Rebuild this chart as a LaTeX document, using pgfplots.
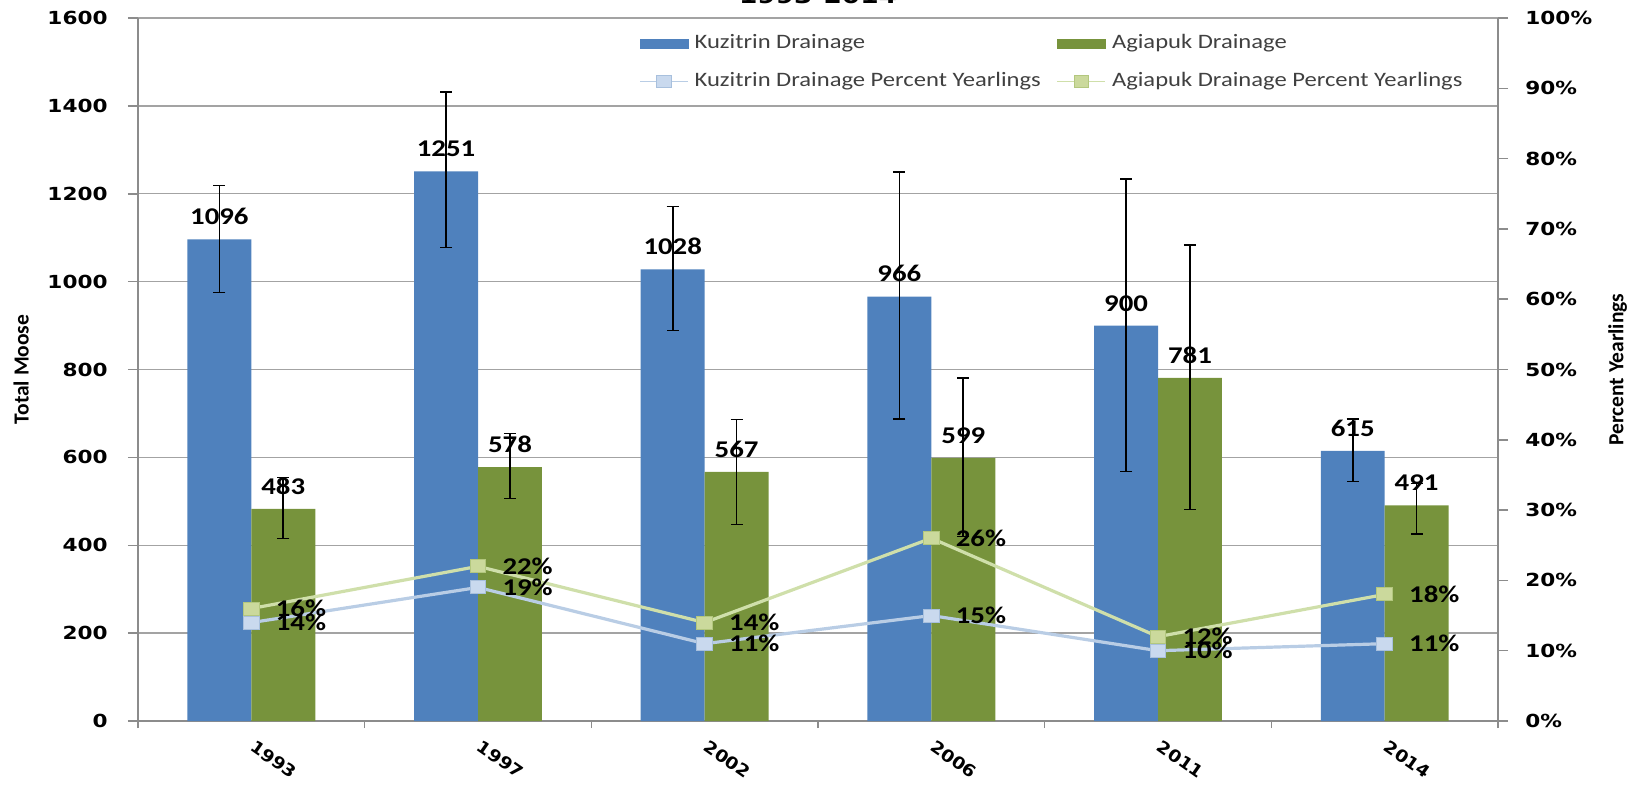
\documentclass[border=0pt]{standalone}
\usepackage{pgfplots}
\usepackage{pgfplotstable}
\pgfplotsset{compat=1.18}
\usepackage{fontspec}
\setmainfont{Carlito}
\newfontfamily\tickfont{DejaVu Sans}[FakeStretch=1.2]
\newfontfamily\xfont{DejaVu Sans}[FakeStretch=1.1]
\newfontfamily\labfont{Carlito}[FakeStretch=1.2]

\definecolor{kblue}{HTML}{4F81BD}
\definecolor{agreen}{HTML}{77933C}
\definecolor{kline}{HTML}{B9CDE5}
\definecolor{kmark}{HTML}{C9D9EE}
\definecolor{kedge}{HTML}{A8C0DD}
\definecolor{aline}{HTML}{CFDFAA}
\definecolor{amark}{HTML}{CBD99C}
\definecolor{aedge}{HTML}{B3C77E}
\definecolor{gridc}{HTML}{A3A3A3}
\definecolor{axc}{HTML}{8C8C8C}
\definecolor{legtext}{HTML}{404040}

\pgfplotsset{
  mylinelegend/.style={legend image code/.code={\draw[mark repeat=2, mark phase=2, ##1, line width=0.6pt, mark size=3pt] plot coordinates {(0pt,0pt) (12pt,0pt) (24pt,0pt)};}},
  kbarlegend/.style={legend image code/.code={\fill[kblue] (0pt,-2.25pt) rectangle (24pt,2.25pt);}},
  abarlegend/.style={legend image code/.code={\fill[agreen] (0pt,-2.25pt) rectangle (24pt,2.25pt);}},
}

\pgfplotstableread{
x y ep em
0 1096 123 121
1 1251 180 173
2 1028 143 139
3 966 283 278
4 900 333 332
5 615 73 70
}\kuz
\pgfplotstableread{
x y ep em
0 483 71 68
1 578 76 72
2 567 119 120
3 599 181 179
4 781 302 300
5 491 50 65
}\agi
\pgfplotstableread{
x k a
0 14 16
1 19 22
2 11 14
3 15 26
4 10 12
5 11 18
}\pct

\begin{document}
\begin{tikzpicture}
\begin{axis}[
 name=main, at={(0,0)}, anchor=south west,
 scale only axis, width=680pt, height=351.5pt,
 xmin=-0.5, xmax=5.5, ymin=0, ymax=1600,
 ybar=0pt, bar width=0.282,
 axis x line*=bottom, axis y line*=left,
 axis line style={draw=axc, line width=0.75pt, -},
 xtick={0,...,5}, xticklabels={1993,1997,2002,2006,2011,2014},
 minor xtick={-0.5,0.5,...,5.5},
 xtick style={draw=none},
 minor x tick style={draw=axc, line width=0.75pt},
 tick align=outside,
 major tick length=5pt, minor tick length=3.5pt,
 ytick={0,200,...,1600},
 yticklabels={0,200,400,600,800,1000,1200,1400,1600},
 ytick style={draw=axc, line width=0.75pt},
 ymajorgrids, major grid style={draw=gridc, line width=0.7pt},
 yticklabel style={font=\tickfont\bfseries\fontsize{9}{10}\selectfont, inner sep=0pt, anchor=east, xshift=-10pt},
 xticklabel style={font=\xfont\bfseries\fontsize{8.4}{10}\selectfont, xshift=2.5pt, yshift=-4pt, rotate=-35, anchor=north west, inner sep=0pt},
 ylabel={Total Moose},
 ylabel style={font=\bfseries\fontsize{10.75}{12}\selectfont, at={(axis description cs:-0.086,0.5)}, anchor=center},
 nodes near coords={\pgfmathprintnumber[assume math mode=true,1000 sep={}]{\pgfplotspointmeta}},
 every node near coord/.append style={font=\labfont\bfseries\fontsize{12}{14}\selectfont, anchor=south, inner sep=0pt, yshift=7pt, black},
 clip=false,
]
\addplot[fill=kblue, draw=none,
  error bars/.cd, y dir=both, y explicit,
  error bar style={black, line width=0.8pt},
  error mark options={black, line width=0.8pt, mark size=3pt, rotate=90}]
  table[x=x, y=y, y error plus=ep, y error minus=em] {\kuz};
\addplot[fill=agreen, draw=none,
  error bars/.cd, y dir=both, y explicit,
  error bar style={black, line width=0.8pt},
  error mark options={black, line width=0.8pt, mark size=3pt, rotate=90}]
  table[x=x, y=y, y error plus=ep, y error minus=em] {\agi};
\end{axis}

\begin{axis}[
 at={(0,0)}, anchor=south west,
 scale only axis, width=680pt, height=351.5pt,
 xmin=-0.5, xmax=5.5, ymin=0, ymax=100,
 axis x line=none, axis y line*=right,
 axis line style={draw=axc, line width=0.75pt, -},
 ytick={0,10,...,100},
 yticklabels={0\%,10\%,20\%,30\%,40\%,50\%,60\%,70\%,80\%,90\%,100\%},
 tick align=outside, major tick length=5pt,
 ytick style={draw=axc, line width=0.75pt},
 yticklabel style={font=\tickfont\bfseries\fontsize{9}{10}\selectfont, inner sep=0pt, anchor=west, xshift=8.5pt},
 ylabel={Percent Yearlings},
 ylabel style={font=\bfseries\fontsize{10.75}{12}\selectfont, at={(axis description cs:1.088,0.5)}, anchor=center},
 legend columns=2,
 legend style={draw=none, fill=none, at={(axis description cs:0.3684,1)}, anchor=north west, yshift=-8pt, inner sep=0pt,
   font=\labfont\fontsize{10.25}{12}\selectfont, text=legtext, cells={anchor=west},
   /tikz/every odd column/.append style={column sep=3pt},
   /tikz/every even column/.append style={column sep=8pt},
   row sep=10pt, nodes={inner sep=0pt, text height=7pt, text depth=2pt}},
 nodes near coords={\pgfmathprintnumber[assume math mode=true]{\pgfplotspointmeta}\%},
 every node near coord/.append style={font=\labfont\bfseries\fontsize{12}{13}\selectfont, anchor=west, inner sep=0pt, xshift=12pt, black},
 clip=false,
]
\addlegendimage{kbarlegend}
\addlegendentry{Kuzitrin Drainage}
\addlegendimage{abarlegend}
\addlegendentry{Agiapuk Drainage}
\addplot[kline, line width=1.6pt, mark=square*, mark size=3.25pt,
  mark options={fill=kmark, draw=kedge, line width=0.5pt, xscale=1.2},
  mylinelegend]
  table[x=x, y=k] {\pct};
\addlegendentry{Kuzitrin Drainage Percent Yearlings}
\addplot[aline, line width=1.6pt, mark=square*, mark size=3.25pt,
  mark options={fill=amark, draw=aedge, line width=0.5pt, xscale=1.2},
  mylinelegend]
  table[x=x, y=a] {\pct};
\addlegendentry{Agiapuk Drainage Percent Yearlings}
\end{axis}
\node[font=\tickfont\bfseries\fontsize{11}{12}\selectfont, anchor=base] at (340pt,358.8pt) {1993-2014};
\pgfresetboundingbox
\path[use as bounding box] (-69pt,-31.5pt) rectangle (754pt,360.5pt);
\end{tikzpicture}
\end{document}
